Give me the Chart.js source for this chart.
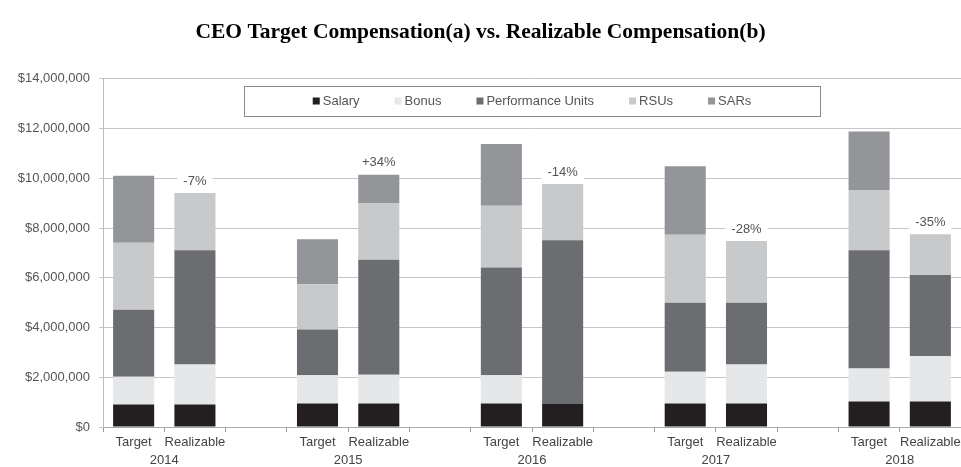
<!DOCTYPE html>
<html>
<head>
<meta charset="utf-8">
<script src="https://cdn.jsdelivr.net/npm/chart.js@4.4.1/dist/chart.umd.min.js"></script>
<style>
    html, body { margin: 0; padding: 0; background: #fff; }
    #wrap { width: 961px; height: 467px; }
</style>
</head>
<body>
<div id="wrap"><canvas id="compChart"></canvas></div>
<script>
// Target / Realizable per year, blank slot between years
const years = ['2014', '2015', '2016', '2017', '2018'];
const categories = [
    'Target', 'Realizable', '',
    'Target', 'Realizable', '',
    'Target', 'Realizable', '',
    'Target', 'Realizable', '',
    'Target', 'Realizable'
];
const salary      = [900000, 900000, null, 940000, 940000, null, 940000, 940000, null, 940000, 940000, null, 1030000, 1030000];
const bonus       = [1120000, 1610000, null, 1140000, 1160000, null, 1140000, 0, null, 1280000, 1570000, null, 1320000, 1820000];
const perfUnits   = [2690000, 4600000, null, 1840000, 4620000, null, 4330000, 6570000, null, 2780000, 2490000, null, 4760000, 3260000];
const rsus        = [2700000, 2300000, null, 1820000, 2270000, null, 2490000, 2260000, null, 2730000, 2480000, null, 2420000, 1640000];
const sars        = [2690000, 0, null, 1810000, 1150000, null, 2480000, 0, null, 2750000, 0, null, 2350000, 0];
const changeLabels = ['-7%', '+34%', '-14%', '-28%', '-35%'];
const yTicks = [0, 2000000, 4000000, 6000000, 8000000, 10000000, 12000000, 14000000];

const sansFont = "'Liberation Sans', Arial, sans-serif";

// legend drawn inside the plot, boxed
const boxedLegend = {
    id: 'boxedLegend',
    afterDraw(chart) {
        const ctx = chart.ctx;
        const area = chart.chartArea;
        const cx = (area.left + area.right) / 2;
        const boxW = 576, boxH = 30, boxTop = 86;
        ctx.save();
        ctx.strokeStyle = '#8a8a8a';
        ctx.lineWidth = 1;
        ctx.strokeRect(Math.round(cx - boxW / 2) + 0.5, boxTop + 0.5, boxW, boxH);

        ctx.font = '13px ' + sansFont;
        ctx.textBaseline = 'middle';
        const sq = 7, gap = 3, spacing = 35;
        const items = chart.data.datasets.map(ds => ({
            label: ds.label,
            color: ds.backgroundColor,
            w: sq + gap + ctx.measureText(ds.label).width
        }));
        const total = items.reduce((s, it) => s + it.w, 0) + spacing * (items.length - 1);
        let x = cx - total / 2;
        const y = boxTop + boxH / 2;
        items.forEach(it => {
            ctx.fillStyle = it.color;
            ctx.fillRect(x, y - sq / 2, sq, sq);
            ctx.fillStyle = '#555';
            ctx.fillText(it.label, x + sq + gap, y + 0.5);
            x += it.w + spacing;
        });
        ctx.restore();
    }
};

// % change above Realizable bars, plus year under each pair
const pairLabels = {
    id: 'pairLabels',
    afterDraw(chart) {
        const ctx = chart.ctx;
        const xs = chart.scales.x;
        const ys = chart.scales.y;
        ctx.save();
        ctx.font = '13px ' + sansFont;
        ctx.textAlign = 'center';
        ctx.textBaseline = 'middle';
        years.forEach((yr, i) => {
            const tIdx = i * 3;
            const rIdx = tIdx + 1;
            const total = chart.data.datasets.reduce((s, ds) => s + (ds.data[rIdx] || 0), 0);
            const px = xs.getPixelForValue(rIdx);
            const py = ys.getPixelForValue(total) - 12;
            const tw = ctx.measureText(changeLabels[i]).width;
            ctx.fillStyle = '#fff';
            ctx.fillRect(px - tw / 2 - 6, py - 7, tw + 12, 14);
            ctx.fillStyle = '#555';
            ctx.fillText(changeLabels[i], px, py);

            const mid = (xs.getPixelForValue(tIdx) + xs.getPixelForValue(rIdx)) / 2;
            ctx.fillStyle = '#444';
            ctx.fillText(yr, mid, 460);
        });
        ctx.restore();
    }
};

const segment = (label, data, color) => ({
    label: label,
    data: data,
    backgroundColor: color,
    borderWidth: 0,
    categoryPercentage: 1,
    barPercentage: 0.67
});

new Chart(document.getElementById('compChart'), {
    type: 'bar',
    data: {
        labels: categories,
        datasets: [
            segment('Salary', salary, '#231f20'),
            segment('Bonus', bonus, '#e6e7e8'),
            segment('Performance Units', perfUnits, '#6c6d70'),
            segment('RSUs', rsus, '#c8c9cb'),
            segment('SARs', sars, '#939598')
        ]
    },
    options: {
        responsive: true,
        maintainAspectRatio: false,
        animation: false,
        layout: { padding: { left: 0, right: 0, top: 0, bottom: 0 } },
        plugins: {
            legend: { display: false },
            tooltip: { enabled: false },
            title: {
                display: true,
                text: 'CEO Target Compensation(a) vs. Realizable Compensation(b)',
                color: '#000',
                font: { family: "'Liberation Serif', 'Times New Roman', serif", size: 21.5, weight: 'bold', lineHeight: 1.2 },
                padding: { top: 20, bottom: 33 }
            }
        },
        scales: {
            x: {
                stacked: true,
                offset: true,
                grid: { display: true, drawOnChartArea: false, drawTicks: true, tickLength: 5, offset: true, color: '#9a9a9a' },
                border: { color: '#aaa' },
                ticks: {
                    autoSkip: false, maxRotation: 0, padding: 3,
                    color: '#444', font: { family: sansFont, size: 13 }
                },
                afterFit(scale) {
                    scale.height = 40;
                    scale.paddingRight = 0;
                    scale.paddingLeft = 0;
                }
            },
            y: {
                stacked: true,
                min: 0,
                max: 14000000,
                afterBuildTicks(scale) { scale.ticks = yTicks.map(v => ({ value: v })); },
                grid: { color: '#c6c6c6', lineWidth: 1, tickLength: 4 },
                border: { color: '#bbb' },
                ticks: {
                    padding: 9,
                    color: '#555',
                    font: { family: sansFont, size: 13 },
                    callback: v => '$' + Number(v).toLocaleString('en-US')
                },
                afterFit(scale) { scale.width = 103; }
            }
        }
    },
    plugins: [boxedLegend, pairLabels]
});
</script>
</body>
</html>
